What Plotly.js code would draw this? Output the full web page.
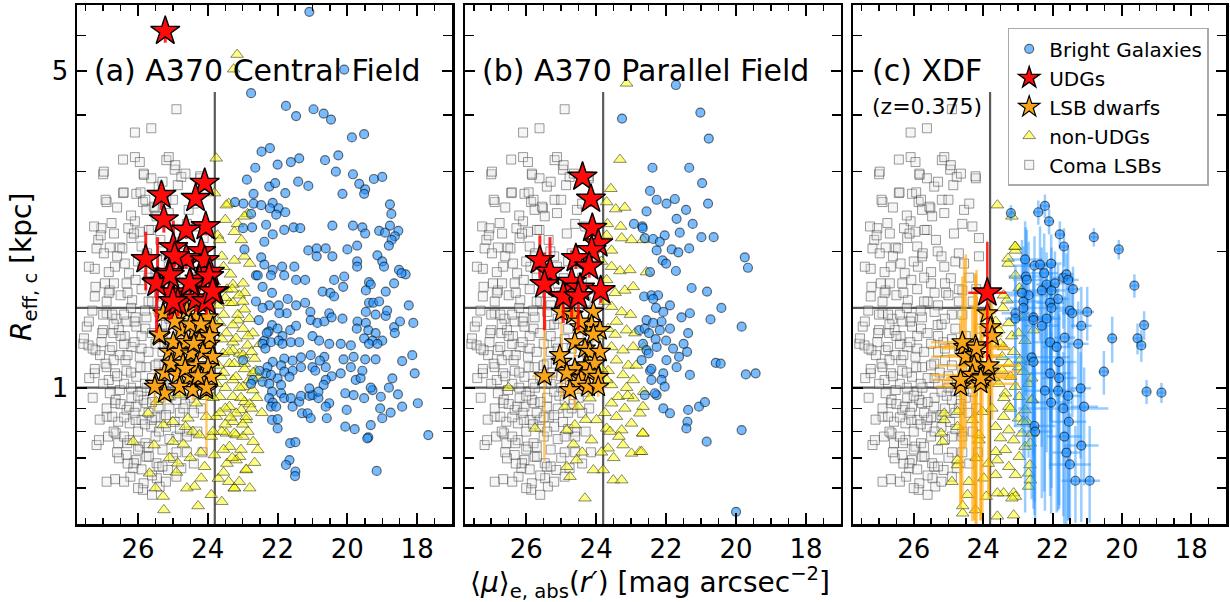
<!DOCTYPE html>
<html>
<head>
<meta charset="utf-8">
<script src="https://cdn.plot.ly/plotly-3.0.1.min.js"></script>
<style>html,body{margin:0;padding:0;background:#fff;}#chart{width:1230px;height:602px;}</style>
</head>
<body>
<div id="chart"></div>
<script>
// ---------------- DATA (mu_e,abs [mag/arcsec^2], R_eff,c [kpc]) ----------------
const MU_CUT = 23.8;           // vertical selection line
const R_CUTS = [1.0, 1.5];     // horizontal selection lines
const R_LINE_TOP = 4.5;        // top of vertical line
const X_RANGE = [27.75, 17.0];
const Y_RANGE = [0.5, 7.0];
const X_TICKS = [26, 24, 22, 20, 18];
const Y_TICKS = [1, 5];
const PANEL_LABELS = ['(a) A370 Central Field', '(b) A370 Parallel Field', '(c) XDF'];
const Z_NOTE = '(z=0.375)';

// Coma LSBs (same comparison sample in every panel)
const comaLSB = [
[24.90,4.12],[25.62,3.74],[26.09,3.66],[26.43,3.19],[26.09,3.23],[25.95,3.15],[25.19,3.18],[27.00,2.96],[25.83,2.95],[25.62,2.90],
[24.95,3.03],[24.76,2.92],[24.21,2.90],[24.86,2.80],[26.05,2.68],[26.43,2.69],[26.90,2.57],[25.86,2.57],[25.19,2.60],[25.52,2.49],
[25.76,2.47],[25.47,2.39],[27.05,2.25],[26.76,2.31],[26.09,2.33],[26.28,2.25],[25.95,2.21],[25.62,2.23],[27.14,2.12],[27.19,2.03],
[26.81,2.04],[26.52,2.04],[26.19,2.14],[25.90,2.05],[27.24,1.83],[26.66,1.85],[26.38,1.88],[25.76,1.95],[27.24,1.59],[26.81,1.64],
[26.33,1.70],[27.47,1.364],[27.57,1.25],[27.42,1.24],[27.05,1.26],[26.90,1.46],[26.62,1.42],[26.33,1.40],[26.05,1.364],[25.76,1.43],
[27.00,1.34],[26.71,1.32],[26.38,1.30],[27.09,1.18],[26.81,1.21],[26.52,1.18],[26.19,1.23],[25.95,1.17],[27.24,1.076],[26.90,1.11],
[26.66,1.076],[26.33,1.09],[26.05,1.057],[25.76,1.11],[26.81,0.972],[26.52,0.988],[26.19,0.948],[25.90,0.98],[26.66,0.924],[26.33,0.893],
[26.05,0.908],[25.76,0.924],[26.90,0.863],[26.57,0.841],[26.24,0.834],[25.90,0.849],[25.62,0.82],[27.19,0.747],[26.86,0.78],[26.57,0.754],
[26.24,0.766],[25.95,0.741],[26.33,0.71],[26.05,0.692],[25.76,0.704],[25.47,0.681],[26.66,0.628],[26.14,0.664],[25.86,0.595],[25.38,0.605],
[25.14,0.658],[24.90,0.636],[24.76,0.664],[26.98,3.00],[25.12,3.23],[24.93,3.10],[24.64,2.97],[24.22,2.93],[25.84,2.97],[25.41,2.78],
[26.93,2.60],[26.41,2.70],[25.93,2.70],[25.79,2.60],[25.55,2.51],[25.12,2.43],[24.55,2.47],[24.12,2.14],[27.26,2.27],[27.07,2.17],
[26.69,2.19],[26.12,2.19],[25.69,2.23],[25.36,2.12],[24.84,2.19],[24.31,2.27],[26.98,1.98],[26.45,2.03],[25.74,1.98],[25.31,2.00],
[27.41,1.85],[26.84,1.80],[26.26,1.79],[25.88,1.85],[25.12,1.85],[24.55,1.88],[24.12,1.95],[27.22,1.67],[26.69,1.70],[26.07,1.73],
[25.50,1.70],[24.93,1.745],[26.84,1.62],[26.17,1.56],[25.60,1.55],[25.07,1.62],[24.60,1.64],[27.31,1.48],[26.74,1.45],[26.07,1.43],
[27.41,1.40],[27.55,1.285],[27.03,1.32],[26.55,1.34],[25.79,1.35],[25.31,1.375],[27.22,1.21],[26.74,1.23],[27.24,1.10],[26.93,1.13],
[26.36,1.15],[25.93,1.11],[25.41,1.13],[26.84,1.04],[26.64,0.94],[26.26,0.908],[25.84,0.94],[25.41,0.908],[26.74,0.863],[26.07,0.849],
[25.60,0.849],[26.64,0.793],[27.12,0.766],[26.31,0.754],[25.79,0.754],[26.55,0.698],[26.12,0.681],[25.69,0.704],[25.41,0.669],[26.22,0.636],
[25.84,0.615],[25.46,0.631],[25.50,1.25],[25.30,1.20],[25.10,1.15],[24.90,1.28],[24.70,1.22],[25.60,1.05],[25.30,1.02],[25.00,1.06],
[24.80,0.98],[24.60,1.10],[25.40,0.95],[25.10,0.90],[24.80,0.88],[24.50,0.95],[25.20,0.82],[24.90,0.78],[24.60,0.80],[25.50,0.78],
[25.70,0.88],[25.90,1.22],[25.60,1.32],[25.20,1.38],[24.90,1.45],[24.50,1.30],[24.30,1.20],[24.40,1.05],[24.20,0.90],[25.70,1.55],
[25.30,1.52],[25.00,1.60],[24.70,1.55],[26.20,1.50],[26.50,1.60],[26.90,1.55],[25.90,1.65],[24.40,1.75],[24.80,1.90],[25.50,1.80],
[25.20,1.95],[26.40,1.25],[26.70,1.15],[26.20,1.00],[26.50,0.92],[26.90,0.90],[26.00,0.80],[26.40,0.78],[25.30,0.73],[24.90,0.72],
[24.60,0.72],[26.90,0.62],[27.30,0.95],[27.40,1.05],[27.00,1.02],[25.20,0.62],[24.40,0.68],[24.30,0.80],[24.20,1.10],[24.10,1.35],
[24.30,1.55],[24.20,1.65],[25.05,0.96],[25.25,1.08],[24.75,1.04],[25.75,1.00],[25.15,1.26],[24.65,0.92],[24.95,0.84],[25.35,0.86],
[25.00,1.00],[25.20,0.98],[25.40,1.05],[25.60,0.93],[25.80,1.02],[26.00,0.96],[26.20,1.08],[26.40,1.02],[26.60,1.06],[24.90,1.12],
[25.10,1.22],[25.30,1.30],[25.50,1.12],[25.70,1.20],[25.90,1.30],[26.10,1.26],[26.30,1.18],[26.50,1.30],[24.70,0.90],[24.90,0.94],
[25.20,0.87],[25.50,0.86],[25.80,0.83],[26.10,0.88],[26.40,0.86],[26.70,0.80],[24.60,0.78],[24.80,0.81],[25.10,0.77],[25.40,0.80],
[25.70,0.74],[26.00,0.73],[26.30,0.68],[26.60,0.72],[25.00,0.70],[25.30,0.67],[25.60,0.64],[25.90,0.66],[26.40,0.62],[25.60,0.58],
[26.00,0.60],[25.10,1.42],[25.40,1.47],[25.80,1.48],[26.10,1.40],[26.40,1.45],[26.70,1.38],[24.80,1.35],[24.60,1.45],[24.70,1.65],
[25.10,1.70],[25.40,1.62],[25.70,1.75],[26.00,1.90],[26.30,1.62],[24.50,1.15],[24.40,0.88],[24.30,0.98],[24.25,1.25],[24.15,0.72],
[27.10,0.85],[27.30,1.22],[27.00,1.45],[26.95,1.70],[26.60,1.95],[26.20,2.40],[26.60,2.50],[25.30,2.85],[25.00,2.60],[24.60,2.30],
[24.40,2.55],[24.70,1.98]
];

// ---- Panel (a) A370 Central Field ----
const aBright = [
[21.09,6.76],[20.09,5.04],[22.76,4.47],[21.76,4.19],[21.47,3.98],[20.97,4.12],[20.68,4.03],[20.47,3.91],[19.87,3.57],[19.52,3.63],
[22.46,3.32],[22.22,3.38],[22.00,3.11],[21.62,3.15],[21.38,3.21],[20.64,3.18],[20.26,3.26],[22.64,3.06],[22.88,2.88],[20.33,3.00],
[19.84,2.96],[19.24,2.89],[19.00,2.92],[22.24,2.78],[22.07,2.83],[21.41,2.85],[21.12,2.79],[19.66,2.82],[19.49,2.74],[19.52,2.68],
[21.78,2.69],[20.14,2.68],[22.69,2.68],[23.22,2.57],[22.98,2.55],[22.69,2.55],[22.47,2.53],[22.14,2.56],[22.22,2.49],[21.97,2.49],
[21.78,2.44],[22.04,2.41],[22.76,2.42],[18.78,2.54],[18.74,2.42],[20.43,2.28],[19.84,2.28],[19.57,2.26],[19.49,2.19],[19.09,2.22],
[18.92,2.20],[18.78,2.28],[18.54,2.22],[18.64,2.16],[18.73,2.12],[18.81,2.06],[22.99,2.25],[22.73,2.26],[22.33,2.29],[22.14,2.18],
[21.81,2.23],[21.54,2.26],[21.35,2.25],[22.38,2.10],[22.95,2.02],[22.47,1.94],[22.38,1.87],[22.62,1.77],[22.14,1.82],[21.87,1.85],
[21.52,1.85],[21.12,2.01],[20.88,2.03],[20.88,1.95],[20.62,2.03],[20.43,1.95],[20.00,2.02],[19.72,2.06],[19.72,1.90],[19.72,1.85],
[19.14,1.96],[19.00,1.90],[18.95,1.85],[18.52,1.82],[18.33,1.78],[20.09,1.76],[20.38,1.73],[22.57,1.77],[22.19,1.77],[21.81,1.77],
[21.47,1.73],[21.21,1.73],[20.12,1.67],[20.71,1.63],[20.49,1.62],[20.38,1.59],[19.38,1.71],[19.33,1.69],[19.47,1.64],[18.90,1.63],
[18.66,1.70],[18.45,1.79],[22.43,1.67],[22.16,1.62],[22.24,1.52],[21.97,1.52],[21.71,1.57],[21.47,1.52],[21.21,1.54],[21.06,1.47],
[21.05,1.41],[20.86,1.39],[20.66,1.40],[20.52,1.46],[20.45,1.43],[20.14,1.42],[21.74,1.46],[21.95,1.46],[22.43,1.50],[22.62,1.55],
[22.54,1.41],[22.16,1.375],[22.26,1.33],[22.00,1.35],[21.86,1.30],[21.64,1.34],[21.47,1.37],[22.38,1.27],[22.19,1.26],[21.97,1.27],
[21.86,1.25],[21.62,1.26],[21.38,1.26],[21.00,1.30],[20.81,1.27],[20.52,1.25],[20.19,1.25],[19.90,1.24],[19.71,1.40],[19.73,1.35],
[19.47,1.39],[19.40,1.34],[19.19,1.32],[19.52,1.285],[19.28,1.27],[19.00,1.27],[19.38,1.25],[19.14,1.25],[19.19,1.45],[18.90,1.44],
[18.86,1.48],[19.47,1.47],[19.38,1.54],[19.26,1.54],[19.09,1.55],[18.66,1.36],[18.64,1.32],[18.49,1.40],[18.11,1.39],[18.24,1.52],
[18.14,1.18],[18.07,1.076],[18.43,1.145],[18.71,1.049],[18.81,1.00],[18.55,0.967],[18.43,0.908],[17.98,0.924],[18.76,0.881],[19.00,0.856],
[19.06,0.90],[19.33,0.827],[19.40,0.777],[19.79,0.81],[20.06,0.82],[20.02,0.893],[20.06,0.972],[19.82,0.963],[19.52,0.948],[19.28,0.988],
[19.04,0.955],[19.76,1.04],[19.62,1.05],[19.33,1.00],[19.90,1.11],[19.57,1.09],[19.19,1.155],[19.49,1.155],[19.82,1.17],[20.11,1.155],
[20.19,1.076],[20.45,1.06],[20.62,1.04],[20.68,1.014],[21.00,1.11],[20.92,1.09],[21.05,1.18],[20.66,1.17],[20.62,1.11],[20.79,1.147],
[21.33,1.167],[21.57,1.147],[21.81,1.16],[21.90,1.12],[21.57,1.09],[21.33,1.11],[21.81,1.085],[21.66,1.057],[22.00,1.049],[22.14,1.14],
[22.29,1.11],[22.33,1.076],[22.19,1.067],[22.52,1.09],[22.71,1.04],[22.43,1.03],[22.24,1.02],[21.90,1.014],[22.16,0.98],[21.90,0.972],
[22.24,0.948],[22.14,0.927],[22.19,0.908],[22.04,0.908],[21.81,0.948],[21.62,0.948],[21.57,0.908],[21.38,0.931],[21.30,0.878],[21.14,0.878],
[21.05,0.856],[21.33,0.959],[21.09,0.959],[21.00,0.963],[20.83,0.948],[21.09,0.997],[20.83,0.98],[20.52,0.924],[20.62,0.908],[20.59,0.856],
[22.16,0.849],[22.00,0.852],[22.00,0.813],[21.64,0.754],[21.49,0.758],[21.66,0.692],[21.76,0.675],[21.49,0.653],[21.50,0.638],[19.16,0.655],
[19.43,0.773],[17.68,0.786],[22.43,1.25],[22.35,1.22],[22.31,1.32],[22.76,1.02],[22.99,1.15]
];
const aNonUDG = [
[23.16,5.44],[23.26,5.05],[23.76,3.21],[23.81,2.69],[23.40,2.55],[23.72,2.17],[22.86,2.42],[22.95,2.39],[23.04,2.12],[23.24,1.91],
[22.95,1.95],[23.47,2.53],[23.66,2.12],[23.24,2.21],[23.81,1.71],[23.38,1.54],[23.66,1.39],[23.14,1.41],[23.47,1.32],[23.28,1.26],
[23.56,1.19],[23.09,1.19],[23.38,1.13],[22.95,1.13],[23.62,1.057],[23.28,1.04],[22.99,1.005],[23.66,0.955],[23.38,0.908],[23.04,0.893],
[23.76,0.863],[23.28,0.841],[22.90,0.849],[23.47,0.793],[23.19,0.786],[23.38,0.741],[23.09,0.704],[22.90,0.658],[23.24,0.60],[23.81,0.71],
[24.19,0.631],[24.38,0.605],[24.28,0.548],[24.86,0.681],[25.28,0.575],[25.26,0.537],[25.67,0.647],[26.14,0.76],[25.54,0.747],[25.00,0.76],
[24.64,0.82],[24.43,0.80],[24.24,0.786],[25.71,0.878],[25.28,0.827],[25.00,0.841],[24.57,0.856],[24.04,0.863],[24.33,0.924],[24.09,0.955],
[25.14,0.955],[24.81,0.963],[25.47,0.931],[24.09,0.669],[23.90,0.78],[23.28,1.69],[22.99,1.70],[22.95,1.62],[23.28,1.54],[22.95,1.49],
[23.14,1.45],[22.81,1.42],[23.28,1.375],[22.99,1.35],[22.71,1.32],[23.19,1.285],[22.86,1.24],[23.28,1.21],[22.99,1.18],[22.66,1.16],
[23.24,1.13],[22.95,1.10],[22.62,1.09],[23.19,1.057],[22.81,1.04],[23.09,1.00],[22.71,0.988],[23.28,0.955],[22.95,0.931],[23.19,0.878],
[22.90,0.863],[23.24,0.793],[22.99,0.78],[22.57,0.729],[23.19,0.692],[22.66,0.683],[22.90,0.66],[23.24,0.60],[23.55,1.85],[23.45,1.65],
[23.70,1.52],[23.90,1.28],[23.55,1.45],[23.70,1.12],[23.50,1.00],[23.60,0.80],[23.45,0.68],[23.10,1.60],[23.35,1.78],[23.60,1.95],
[23.15,2.30],[23.50,2.35],[22.80,1.88],[23.05,0.95],[23.50,0.90],[23.70,0.63],[22.80,0.92],[23.35,0.86],[23.55,0.73],
[23.85,0.95],[23.75,1.02],[23.55,1.08],[23.40,1.20],[23.60,1.28],[23.85,1.40],[23.50,1.58],[23.30,1.65],[23.00,1.55],[22.85,1.30],
[22.75,1.20],[22.70,1.08],[22.60,0.95],[22.75,0.90],[22.85,0.80],[22.70,0.76],[23.05,0.73],[23.30,0.70],[23.55,0.65],[23.40,0.62],
[23.10,0.62],[22.80,0.60],[23.90,0.58],[23.60,0.56],[23.00,0.83],[23.50,0.83],[23.85,0.80],[23.65,0.88],[24.20,0.72],[24.50,0.70],
[24.70,0.75],[24.90,0.65],[25.10,0.70],[25.50,0.60],[24.60,0.60],[22.50,1.25],[22.55,1.05],[22.45,0.88]
];
const aUDG = [
[25.22,6.13],[24.09,2.83],[25.33,2.66],[24.35,2.62],[25.26,2.35],[24.06,2.27],[24.62,2.23],[24.99,2.04],[24.19,2.00],[25.78,1.92],
[24.62,1.93],[24.09,1.91],[24.95,1.95],[25.11,1.79],[23.94,1.80],[25.44,1.71],[24.50,1.70],[24.24,1.73],[23.81,1.63],[25.05,1.62],
[24.86,1.54],[24.33,1.57],[24.04,1.55],[25.47,1.70],[25.09,1.77],[25.00,1.55],[24.52,1.70],[23.96,1.76],[23.86,1.63]
];
// [plus, minus] errors on R
const aUDGErr = [
[0.35,0.35],[0.10,0.10],[0.17,0.19],[0.10,0.10],[0.15,0.15],[0.10,0.10],[0.10,0.10],[0.30,0.40],[0.10,0.10],[0.29,0.28],
[0.10,0.10],[0.10,0.10],[0.10,0.10],[0.15,0.38],[0.10,0.10],[0.44,0.15],[0.10,0.10],[0.10,0.10],[0.08,0.08],[0.10,0.20],
[0.10,0.10],[0.10,0.10],[0.10,0.10],[0.12,0.38],[0.10,0.10],[0.10,0.07],[0.10,0.10],[0.10,0.10],[0.10,0.10]
];
const aLSB = [
[25.38,1.30],[25.11,1.20],[25.24,1.076],[25.49,1.02],[24.86,1.46],[24.33,1.43],[24.00,1.43],[24.76,1.34],[24.38,1.34],[24.09,1.32],
[23.86,1.36],[24.99,1.26],[24.62,1.26],[24.24,1.27],[23.95,1.25],[24.81,1.20],[24.48,1.19],[24.14,1.20],[23.86,1.17],[25.05,1.13],
[24.71,1.13],[24.33,1.12],[24.00,1.11],[24.86,1.067],[24.52,1.057],[24.19,1.049],[23.90,1.057],[24.81,1.005],[24.43,0.988],[24.04,0.988],
[25.24,0.972],[25.52,1.005],[25.28,1.46],[25.39,1.31],[24.04,1.00],[24.60,1.48],[24.50,1.38],[24.20,1.38],[24.95,1.40],[24.65,1.10],
[24.28,1.06],[23.95,1.30],[24.40,1.25]
];
// [x err, R plus, R minus]
const aLSBErr = [
[0,0.05,0.05],[0,0.05,0.05],[0,0.05,0.05],[0,0.05,0.05],[0,0.05,0.05],[0,0.05,0.05],[0,0.05,0.05],[0,0.05,0.05],[0,0.05,0.05],[0,0.05,0.05],
[0,0.05,0.05],[0,0.05,0.05],[0,0.05,0.05],[0,0.05,0.05],[0,0.05,0.05],[0,0.05,0.05],[0,0.05,0.05],[0,0.05,0.05],[0,0.05,0.05],[0,0.05,0.05],
[0,0.05,0.05],[0,0.05,0.05],[0,0.05,0.05],[0,0.05,0.05],[0,0.05,0.05],[0,0.05,0.05],[0,0.05,0.05],[0,0.05,0.05],[0,0.05,0.05],[0,0.05,0.27],
[0,0.05,0.05],[0,0.08,0.11],[0.30,0.05,0.05],[0,0.05,0.05],[0,0.05,0.05],[0,0.05,0.05],[0,0.05,0.05],[0,0.05,0.05],[0,0.05,0.05],[0,0.05,0.05],
[0,0.05,0.05],[0,0.05,0.05],[0,0.05,0.05]
];

// ---- Panel (b) A370 Parallel Field ----
const bBright = [
[23.26,3.93],[22.39,3.06],[22.46,2.72],[22.27,2.60],[22.92,2.30],[22.68,2.27],[22.61,2.14],[22.37,2.13],[22.27,2.01],[22.46,1.80],
[22.63,1.59],[22.42,1.60],[22.77,1.34],[22.56,1.41],[22.66,1.25],[22.70,1.15],[22.46,1.09],[22.42,1.04],[22.27,0.963],[21.72,4.66],
[21.02,4.05],[20.78,3.55],[21.34,3.06],[20.97,2.83],[21.99,2.55],[21.75,2.61],[20.80,2.55],[22.56,2.45],[21.70,2.36],[21.43,2.47],
[21.24,2.30],[21.61,2.20],[22.04,2.17],[20.99,2.15],[20.64,2.15],[22.67,2.25],[22.18,2.10],[21.84,2.02],[21.65,1.99],[21.34,2.03],
[22.10,1.91],[22.00,1.88],[21.72,1.81],[19.75,1.94],[19.66,1.84],[21.27,1.66],[20.83,1.63],[20.42,1.50],[20.73,1.415],[21.32,1.46],
[21.56,1.43],[21.89,1.52],[22.23,1.60],[22.37,1.57],[22.29,1.50],[22.08,1.47],[22.13,1.40],[22.37,1.39],[22.61,1.35],[22.49,1.32],
[22.18,1.34],[21.89,1.35],[22.00,1.27],[22.27,1.23],[22.56,1.21],[21.37,1.32],[21.40,1.20],[21.63,1.17],[21.99,1.15],[21.70,1.11],
[22.42,1.10],[22.08,1.076],[22.13,1.04],[22.04,1.005],[22.32,0.972],[20.58,1.135],[20.44,1.13],[21.32,1.067],[19.72,1.07],[19.44,1.076],
[19.84,1.364],[22.08,0.90],[21.89,0.878],[21.37,0.893],[21.39,0.841],[21.42,0.813],[21.06,0.908],[20.89,0.929],[19.84,0.806],[20.84,0.76],
[22.61,0.963],[20.00,0.532],[22.50,1.19],[22.30,1.28],[21.50,1.25],[21.80,1.22]
];
const bNonUDG = [
[23.13,4.70],[23.32,3.19],[23.58,2.75],[23.70,2.57],[23.44,2.48],[23.18,2.50],[23.68,2.30],[23.30,2.27],[23.70,2.17],[23.27,2.14],
[23.56,2.01],[22.99,2.12],[23.56,1.85],[23.32,1.81],[23.04,1.82],[23.70,1.73],[23.18,1.64],[23.46,1.62],[22.94,1.67],[23.56,1.51],
[23.27,1.47],[23.02,1.45],[23.42,1.40],[23.66,1.35],[23.13,1.34],[23.46,1.31],[22.89,1.32],[23.56,1.23],[23.23,1.21],[22.94,1.23],
[23.42,1.15],[23.08,1.12],[23.66,1.09],[23.23,1.067],[22.94,1.04],[23.56,1.014],[23.13,1.00],[23.37,0.955],[22.94,0.948],[23.56,0.924],
[23.18,0.90],[22.75,0.878],[23.42,0.863],[22.99,0.834],[23.70,0.813],[23.27,0.806],[22.66,0.793],[23.66,0.735],[23.23,0.747],[22.99,0.716],
[22.75,0.722],[23.80,0.658],[23.51,0.625],[23.27,0.625],[24.32,0.57],[24.75,0.636],[24.84,0.669],[24.56,0.692],[24.08,0.658],[24.13,0.766],
[24.84,0.806],[24.61,0.827],[24.89,0.908],[24.51,0.908],[24.18,0.948],[25.75,0.813],[26.51,1.00],[23.99,0.849],[23.70,1.04],[22.56,1.80],
[22.66,2.12],[22.64,1.23],[22.64,0.98],[22.66,0.908],[22.67,0.793],[22.70,0.722],[24.40,0.72],[24.65,0.75],[24.30,0.85],
[23.85,1.10],[23.75,0.88],[23.60,0.80],[23.50,0.70],[23.85,0.72],[23.35,0.78],[23.10,0.96],[22.85,1.12],[23.90,1.30],[23.75,1.55],[23.85,1.90]
];
const bUDG = [
[24.39,2.92],[24.15,2.61],[24.11,2.25],[23.94,2.08],[24.13,2.01],[25.61,1.91],[24.58,1.93],[25.32,1.80],[24.20,1.85],[25.48,1.69],
[24.70,1.71],[24.46,1.66],[24.94,1.59],[23.87,1.64],[24.51,1.59]
];
const bUDGErr = [
[0.10,0.10],[0.10,0.10],[0.10,0.10],[0.10,0.10],[0.10,0.10],[0.26,0.20],[0.10,0.10],[0.35,0.20],[0.10,0.10],[0.30,0.35],
[0.30,0.28],[0.10,0.10],[0.10,0.20],[0.10,0.10],[0.10,0.25]
];
const bLSB = [
[24.99,1.47],[24.67,1.45],[24.08,1.47],[24.46,1.36],[24.13,1.375],[23.89,1.34],[24.61,1.26],[24.08,1.31],[24.32,1.22],[24.18,1.20],
[23.89,1.20],[24.99,1.14],[24.61,1.10],[24.27,1.12],[24.04,1.13],[24.84,1.076],[24.42,1.049],[24.18,1.076],[23.94,1.057],[24.51,1.02],
[24.23,1.005],[23.94,1.005],[25.48,1.06],[24.75,0.988],[24.46,1.40],[25.04,1.18]
];
const bLSBErr = [
[0,0.05,0.05],[0,0.05,0.05],[0,0.05,0.05],[0,0.05,0.05],[0,0.05,0.05],[0,0.05,0.05],[0,0.05,0.05],[0,0.05,0.05],[0,0.05,0.05],[0,0.05,0.05],
[0,0.05,0.05],[0,0.26,0.19],[0,0.25,0.20],[0,0.05,0.05],[0,0.05,0.05],[0,0.05,0.05],[0,0.05,0.05],[0,0.05,0.05],[0,0.05,0.05],[0,0.05,0.05],
[0,0.05,0.05],[0,0.05,0.05],[0.35,0.49,0.37],[0,0.05,0.05],[0,0.05,0.05],[0,0.05,0.05]
];

// ---- Panel (c) XDF (z=0.375) ----
const cBright = [
[22.22,2.52],[22.41,2.44],[22.10,2.33],[21.79,2.18],[21.67,2.05],[20.81,2.15],[20.09,2.02],[23.20,2.43],[22.79,1.92],[22.52,1.86],
[22.36,1.87],[22.04,1.88],[22.24,1.79],[22.77,1.76],[22.17,1.69],[21.93,1.70],[21.69,1.75],[21.60,1.78],[21.55,1.73],[21.41,1.65],
[22.31,1.64],[22.03,1.64],[22.69,1.60],[22.84,1.55],[21.84,1.57],[22.07,1.54],[22.03,1.50],[21.50,1.48],[21.43,1.46],[21.00,1.47],
[19.64,1.68],[23.07,1.46],[22.55,1.43],[22.31,1.37],[22.17,1.42],[21.17,1.37],[19.36,1.375],[21.65,1.29],[22.07,1.26],[21.88,1.23],
[21.26,1.25],[20.28,1.285],[19.55,1.285],[19.44,1.24],[22.60,1.167],[21.81,1.14],[20.52,1.085],[22.07,1.076],[21.81,1.05],[22.22,0.985],
[21.84,0.985],[21.19,0.997],[21.55,0.959],[22.04,0.927],[21.69,0.90],[21.09,0.908],[19.29,0.98],[18.86,0.975],[22.52,0.823],[21.53,0.841],
[21.66,0.78],[21.17,0.745],[21.60,0.719],[21.50,0.677],[21.34,0.623],[20.93,0.623],[22.88,1.62],[22.84,1.50],[23.07,1.42],[22.55,1.41],
[22.55,1.14],[22.50,0.80],[22.74,1.73]
];
const cBrightErr = [
[0.15,0.15,0.15],[0.15,0.15,0.15],[0.15,0.15,0.15],[0.15,0.15,0.15],[0.15,0.20,0.20],[0.10,0.10,0.10],[0.10,0.10,0.10],[0.10,0.10,0.10],[0.50,0.41,1.39],[0.60,0.30,1.30],
[0.40,0.40,0.60],[0.30,0.30,0.40],[0.40,0.40,1.20],[0.50,0.50,0.80],[0.30,0.30,0.60],[0.30,0.30,0.50],[0.30,0.30,0.40],[0.20,0.20,0.30],[0.30,0.30,0.50],[0.20,0.20,0.30],
[0.50,0.40,0.90],[0.40,0.40,0.80],[0.60,0.50,0.90],[0.50,0.50,0.70],[0.30,0.30,0.60],[0.40,0.30,0.70],[0.40,0.30,0.90],[0.30,0.30,0.50],[0.30,0.30,0.60],[0.20,0.20,0.20],
[0.10,0.10,0.10],[0.40,0.40,0.60],[0.60,0.40,0.80],[0.50,0.50,0.80],[0.40,0.40,0.70],[0.30,0.30,0.40],[0.10,0.10,0.10],[0.30,0.30,0.40],[0.50,0.40,0.60],[0.40,0.40,0.70],
[0.30,0.30,0.50],[0.10,0.15,0.15],[0.10,0.10,0.10],[0.10,0.10,0.10],[1.10,0.40,0.60],[0.50,0.40,0.60],[0.15,0.12,0.12],[0.60,0.40,0.50],[0.50,0.40,0.50],[0.60,0.40,0.45],
[0.50,0.30,0.45],[0.30,0.20,0.30],[0.40,0.30,0.45],[0.60,0.40,0.40],[1.30,0.30,0.38],[0.40,0.20,0.30],[0.10,0.06,0.06],[0.10,0.05,0.05],[0.60,0.30,0.30],[0.50,0.30,0.33],
[0.50,0.30,0.28],[0.50,0.25,0.24],[0.40,0.25,0.22],[0.60,0.20,0.17],[0.40,0.20,0.12],[0.30,0.20,0.12],[0.50,0.50,0.80],[0.40,0.40,0.80],[0.30,0.30,0.60],[0.50,0.40,0.70],
[0.60,0.40,0.60],[0.50,0.30,0.30],[0.40,0.50,0.90]
];
const cNonUDG = [
[23.07,2.01],[23.28,1.88],[22.96,1.66],[23.31,1.56],[23.43,1.50],[23.26,1.39],[23.55,1.34],[23.17,1.30],[22.79,1.27],[23.41,1.23],
[23.45,1.17],[23.12,1.20],[23.26,1.13],[23.45,1.09],[22.98,1.11],[22.84,1.085],[23.21,1.057],[23.55,1.02],[23.07,1.005],[22.69,1.02],
[23.36,0.972],[22.96,0.955],[22.58,0.94],[23.26,0.908],[22.79,0.893],[23.41,0.863],[22.98,0.856],[22.74,0.841],[23.64,0.82],[23.26,0.806],
[22.88,0.793],[23.50,0.774],[23.12,0.766],[22.79,0.741],[23.64,0.722],[23.36,0.729],[22.96,0.704],[22.65,0.675],[23.59,0.692],[23.26,0.669],
[23.07,0.642],[22.69,0.605],[23.64,0.642],[23.41,0.585],[23.12,0.585],[23.91,0.575],[23.59,0.52],[23.12,0.523],[24.59,0.528],[24.41,0.62],
[23.98,0.631],[24.74,0.675],[24.12,0.766],[25.12,0.849],[25.17,0.76],[24.74,0.82],[24.31,0.849],[24.02,0.885],[23.59,2.53],[23.07,2.05],
[23.28,1.93],[23.07,1.77],[23.41,1.60],[23.64,1.40],[25.21,0.793],[24.74,0.885],[25.12,0.878],[24.12,0.786],[24.74,0.692],[24.59,0.548],
[24.22,0.537],[23.59,0.585],[23.07,0.575],[23.17,2.39],[23.08,2.05],[22.88,1.64],[22.84,1.43],[22.55,1.34],[22.98,1.32],[22.93,1.15],
[22.64,1.14],[22.60,1.049],[22.60,0.94],[23.21,0.90],[22.84,0.841],[22.60,0.793],[22.64,0.754],[22.69,0.647],[22.64,0.625],[23.17,0.57],
[23.50,1.25],[23.70,1.05],[23.40,0.95],[23.75,0.90],[24.20,0.70],[23.85,0.68],[24.45,0.58],[24.90,0.62]
];
const cUDG = [[23.88,1.62]];
const cUDGErr = [[0.55,0.48,0.47]];
const cLSB = [
[23.88,1.46],[23.79,1.36],[23.74,1.30],[24.55,1.23],[24.22,1.24],[24.50,1.17],[24.22,1.18],[24.26,1.12],[23.84,1.085],[24.31,1.067],
[24.02,1.057],[24.07,1.02],[24.65,1.005],[24.60,1.26],[24.19,1.22],[23.84,1.12],[24.65,1.04],[24.07,1.049]
];
const cLSBErr = [
[0.25,0.25,0.35],[0.35,0.30,0.40],[0.30,0.35,0.45],[1.00,0.70,0.50],[0.90,0.55,0.74],[1.00,0.80,0.43],[0.80,0.60,0.65],[1.10,0.50,0.61],[0.90,0.40,0.50],[1.20,0.45,0.56],
[1.00,0.40,0.55],[1.10,0.35,0.51],[0.70,0.30,0.45],[0.90,0.50,0.70],[1.00,0.60,0.72],[0.90,0.35,0.55],[0.80,0.40,0.50],[1.00,0.40,0.54]
];

// ---------------- STYLES ----------------
const FONT = 'DejaVu Sans, Verdana, sans-serif';
const ST = {
  coma:  {name:'Coma LSBs', symbol:'square', size:9, color:'rgba(225,225,225,0.3)', line:'rgba(60,60,60,0.5)', lw:1, rank:5},
  non:   {name:'non-UDGs', symbol:'triangle-up', size:11, color:'rgba(255,255,0,0.5)', line:'rgba(40,40,20,0.55)', lw:1, rank:4},
  bright:{name:'Bright Galaxies', symbol:'circle', size:9, color:'rgba(30,144,255,0.6)', line:'rgba(0,0,0,0.55)', lw:1.2, rank:1},
  lsb:   {name:'LSB dwarfs', symbol:'star', size:16, color:'rgb(250,165,25)', line:'#000', lw:1.2, rank:3},
  udg:   {name:'UDGs', symbol:'star', size:22, color:'rgb(255,10,10)', line:'#000', lw:1.4, rank:2}
};
const ERRCOL = {bright:'rgba(30,144,255,0.45)', lsb:'rgba(255,165,0,0.6)', udg:'rgba(255,0,0,0.85)'};

function trace(pts, key, ax, showleg, err, errMode) {
  const s = ST[key];
  const t = {
    type:'scatter', mode:'markers', name:s.name, legendrank:s.rank, showlegend:showleg,
    x: pts.map(p => p[0]), y: pts.map(p => p[1]),
    xaxis:'x'+ax, yaxis:'y'+ax, hoverinfo:'skip', cliponaxis:true,
    marker:{symbol:s.symbol, size:s.size, color:s.color, line:{color:s.line, width:s.lw}}
  };
  if (err) {
    if (errMode === 'y2') {
      t.error_y = {type:'data', symmetric:false, array:err.map(e=>e[0]), arrayminus:err.map(e=>e[1]),
                   color:ERRCOL[key], thickness:3, width:0};
    } else {
      t.error_x = {type:'data', array:err.map(e=>e[0]), color:ERRCOL[key], thickness:2.5, width:0};
      t.error_y = {type:'data', symmetric:false, array:err.map(e=>e[1]), arrayminus:err.map(e=>e[2]),
                   color:ERRCOL[key], thickness:2.5, width:0};
    }
  }
  return t;
}

const data = [
  trace(comaLSB,'coma','',true),
  trace(aNonUDG,'non','',true),
  trace(aBright,'bright','',true),
  trace(aLSB,'lsb','',true,aLSBErr,'xy'),
  trace(aUDG,'udg','',true,aUDGErr,'y2'),
  trace(comaLSB,'coma','2',false),
  trace(bNonUDG,'non','2',false),
  trace(bBright,'bright','2',false),
  trace(bLSB,'lsb','2',false,bLSBErr,'xy'),
  trace(bUDG,'udg','2',false,bUDGErr,'y2'),
  trace(comaLSB,'coma','3',false),
  trace(cNonUDG,'non','3',false),
  trace(cBright,'bright','3',false,cBrightErr,'xy'),
  trace(cLSB,'lsb','3',false,cLSBErr,'xy'),
  trace(cUDG,'udg','3',false,cUDGErr,'xy')
];

// ---------------- LAYOUT ----------------
const tickFont = {family:FONT, size:26, color:'#000'};
function xAxis(domain, anchor) {
  return {domain:domain, anchor:anchor, range:X_RANGE, tickmode:'array', tickvals:X_TICKS,
    ticks:'inside', ticklen:11, tickwidth:2, tickcolor:'#000', mirror:'allticks',
    showline:true, linecolor:'#000', linewidth:2.5, showgrid:false, zeroline:false,
    tickfont:tickFont, ticklabelstandoff:0,
    minor:{tickmode:'linear', tick0:0, dtick:0.5, ticks:'inside', ticklen:6, tickwidth:1.5, tickcolor:'#000', showgrid:false}};
}
function yAxis(anchor, labels) {
  return {anchor:anchor, domain:[0,1], type:'log', range:[Math.log10(Y_RANGE[0]), Math.log10(Y_RANGE[1])],
    tickmode:'array', tickvals:Y_TICKS, ticktext:Y_TICKS.map(String), showticklabels:labels,
    ticks:'inside', ticklen:10, tickwidth:2, tickcolor:'#000', mirror:'allticks',
    showline:true, linecolor:'#000', linewidth:2.5, showgrid:false, zeroline:false,
    tickfont:tickFont, ticklabelstandoff:1,
    minor:{tickmode:'array', tickvals:[0.6,0.7,0.8,0.9,2,3,4,6], ticks:'inside', ticklen:9, tickwidth:1.5, tickcolor:'#000', showgrid:false}};
}

const shapes = [];
['', '2', '3'].forEach(ax => {
  R_CUTS.forEach(r => shapes.push({type:'line', layer:'below', xref:'x'+ax, yref:'y'+ax,
    x0:X_RANGE[0], x1:MU_CUT, y0:r, y1:r, line:{color:'rgb(90,90,90)', width:2.2}}));
  shapes.push({type:'line', layer:'below', xref:'x'+ax, yref:'y'+ax,
    x0:MU_CUT, x1:MU_CUT, y0:Y_RANGE[0], y1:R_LINE_TOP, line:{color:'rgb(90,90,90)', width:2.2}});
});

const annFont = {family:FONT, size:30, color:'#000'};
const annotations = [
  {xref:'x domain', yref:'y domain', x:0.04, y:0.873, xanchor:'left', yanchor:'middle', showarrow:false, text:PANEL_LABELS[0], font:annFont},
  {xref:'x2 domain', yref:'y2 domain', x:0.04, y:0.873, xanchor:'left', yanchor:'middle', showarrow:false, text:PANEL_LABELS[1], font:annFont},
  {xref:'x3 domain', yref:'y3 domain', x:0.045, y:0.873, xanchor:'left', yanchor:'middle', showarrow:false, text:PANEL_LABELS[2], font:annFont},
  {xref:'x3 domain', yref:'y3 domain', x:0.045, y:0.805, xanchor:'left', yanchor:'middle', showarrow:false, text:Z_NOTE, font:{family:FONT, size:22, color:'#000'}},
  {xref:'paper', yref:'paper', x:0.4987, y:-0.112, xanchor:'center', yanchor:'middle', showarrow:false,
   text:'\u27e8<i>\u03bc</i>\u27e9<sub>e, abs</sub>(<i>r\u2032</i>) [mag arcsec<sup>\u22122</sup>]', font:{family:FONT, size:28, color:'#000'}},
  {xref:'paper', yref:'paper', x:-0.047, y:0.495, xanchor:'center', yanchor:'middle', showarrow:false, textangle:-90,
   text:'<i>R</i><sub>eff, c</sub> [kpc]', font:{family:FONT, size:28, color:'#000'}}
];

const layout = {
  width:1230, height:602, margin:{l:77, r:4, t:5, b:78},
  paper_bgcolor:'#fff', plot_bgcolor:'#fff', font:{family:FONT, color:'#000'},
  xaxis: xAxis([0, 0.3264], 'y'),
  xaxis2: xAxis([0.3377, 0.6649], 'y2'),
  xaxis3: xAxis([0.6754, 1], 'y3'),
  yaxis: yAxis('x', true),
  yaxis2: Object.assign(yAxis('x2', false), {matches:'y'}),
  yaxis3: Object.assign(yAxis('x3', false), {matches:'y'}),
  showlegend:true,
  legend:{x:0.81, y:0.956, xanchor:'left', yanchor:'top', bgcolor:'rgba(255,255,255,0.85)',
    bordercolor:'#aaa', borderwidth:1.5, font:{family:FONT, size:20, color:'#000'}, itemsizing:'trace', tracegroupgap:0},
  shapes:shapes, annotations:annotations
};

Plotly.newPlot('chart', data, layout, {staticPlot:true, displayModeBar:false});
</script>
</body>
</html>
